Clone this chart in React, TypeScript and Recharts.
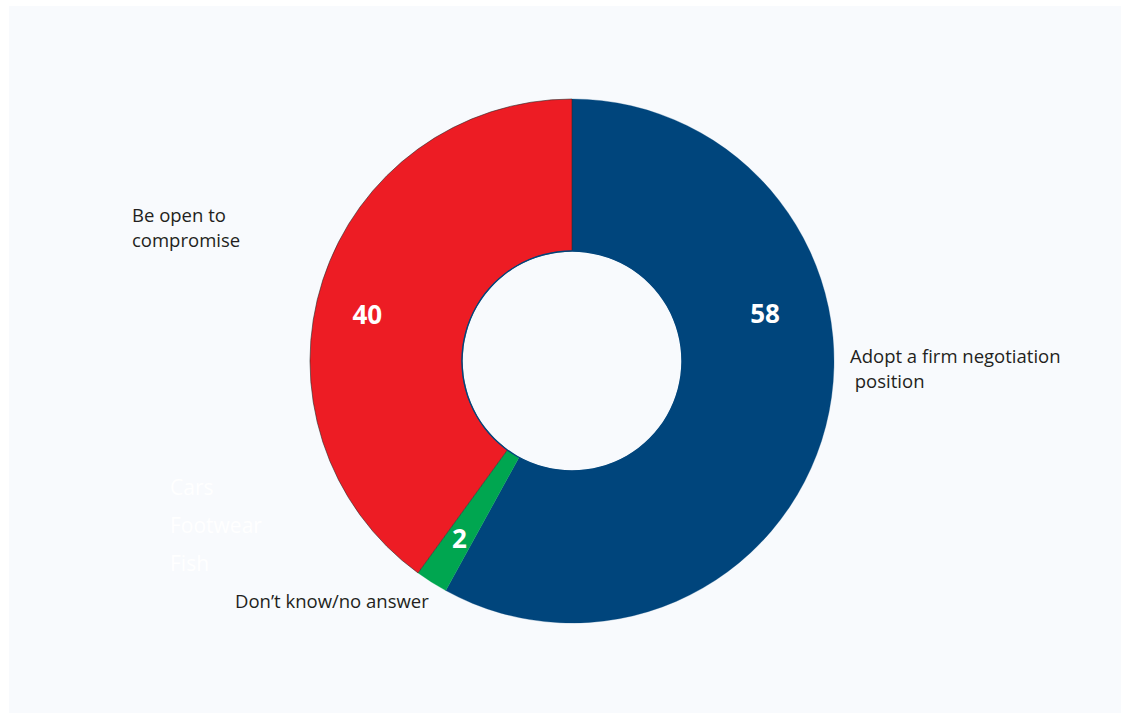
import React from "react";
import { PieChart, Pie, Cell } from "recharts";

const categories = ["Adopt a firm negotiation position", "Don't know/no answer", "Be open to compromise"];
const values = [58, 2, 40];
const sliceColors = ["#00457c", "#00a650", "#ed1c24"];
const labelLines = [["Adopt a firm negotiation", " position"], ["Don\u2019t know/no answer"], ["Be open to", "compromise"]];
const ghostLabels = ["Cars", "Footwear", "Fish"];

const data = categories.map((name, i) => ({ name, value: values[i] }));

const W = 1112;
const H = 707;
const CX = 563;
const CY = 355;
const OUTER = 262;
const INNER = 110;

// value-label placement (angle in degrees, radius) per slice index; null angle = use midAngle
const valueLabelPlacement = [
  { angle: 14, r: 199 },
  { angle: null, r: 210 },
  { angle: 167, r: 210 },
];

// category label anchors (x, y of first line), relative to the chart
const nameLabelPlacement = [
  { x: 841, y: 349 },
  { x: 226, y: 594 },
  { x: 123, y: 208 },
];
const ghostPlacement = { x: 161, y: 481, step: 38 };

const FONT = "'Open Sans', 'Noto Sans', sans-serif";
const RAD = Math.PI / 180;

const renderValueLabel = (props: any) => {
  const { cx, cy, midAngle, index, value } = props;
  const p = valueLabelPlacement[index];
  const a = p.angle === null ? midAngle : p.angle;
  const x = cx + p.r * Math.cos(a * RAD);
  const y = cy - p.r * Math.sin(a * RAD);
  return (
    <text
      key={`v-${index}`}
      x={x}
      y={y}
      fill="#ffffff"
      textAnchor="middle"
      dominantBaseline="central"
      fontFamily={FONT}
      fontWeight={700}
      fontSize={26}
    >
      {value}
    </text>
  );
};

export default function App() {
  return (
    <div
      style={{
        position: "absolute",
        left: 9,
        top: 6,
        width: W,
        height: H,
        background: "#f8fafd",
      }}
    >
      <PieChart width={W} height={H} margin={{ top: 0, right: 0, bottom: 0, left: 0 }}>
        <Pie
          data={data}
          dataKey="value"
          nameKey="name"
          cx={CX}
          cy={CY}
          outerRadius={OUTER}
          innerRadius={INNER}
          startAngle={90}
          endAngle={-270}
          paddingAngle={0}
          isAnimationActive={false}
          label={renderValueLabel}
          labelLine={false}
        >
          {data.map((d, i) => (
            <Cell
              key={d.name}
              fill={sliceColors[i]}
              stroke={i === 2 ? "#2a2a2a" : sliceColors[i]}
              strokeWidth={i === 2 ? 0.6 : 0.3}
            />
          ))}
        </Pie>
        <Pie
          data={[{ name: "hole-edge", value: 1 }]}
          dataKey="value"
          cx={CX}
          cy={CY}
          outerRadius={INNER + 0.7}
          innerRadius={INNER - 0.7}
          startAngle={90}
          endAngle={-270}
          isAnimationActive={false}
          fill="#00457c"
          stroke="none"
          label={false}
          labelLine={false}
        />
      </PieChart>
      <svg width={W} height={H} style={{ position: "absolute", left: 0, top: 0, pointerEvents: "none" }}>
        {labelLines.map((lines, i) => (
          <text
            key={categories[i]}
            x={nameLabelPlacement[i].x}
            y={nameLabelPlacement[i].y}
            fill="#231f20"
            fontFamily={FONT}
            fontSize={18.5}
            dominantBaseline="central"
            style={{ whiteSpace: "pre" }}
          >
            {lines.map((l, j) => (
              <tspan key={j} x={nameLabelPlacement[i].x} dy={j === 0 ? 0 : 25} style={{ whiteSpace: "pre" }}>
                {l}
              </tspan>
            ))}
          </text>
        ))}
        {ghostLabels.map((g, i) => (
          <text
            key={g}
            x={ghostPlacement.x}
            y={ghostPlacement.y + i * ghostPlacement.step}
            fill="#ffffff"
            fontFamily={FONT}
            fontSize={21}
            dominantBaseline="central"
          >
            {g}
          </text>
        ))}
      </svg>
    </div>
  );
}
